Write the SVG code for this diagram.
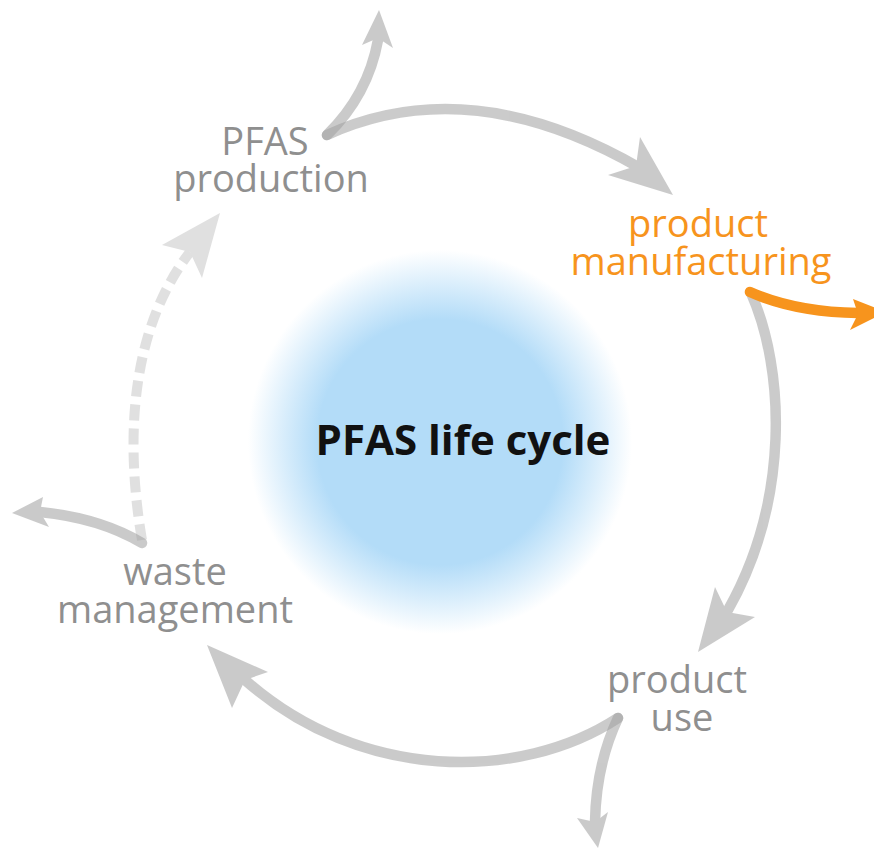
<svg xmlns="http://www.w3.org/2000/svg" width="874" height="850" viewBox="0 0 874 850">
  <defs>
    <radialGradient id="glow" cx="440" cy="442" r="192" gradientUnits="userSpaceOnUse">
      <stop offset="0" stop-color="#B3DCF8"/>
      <stop offset="0.64" stop-color="#B3DCF8"/>
      <stop offset="1" stop-color="#B3DCF8" stop-opacity="0"/>
    </radialGradient>
    <style>
      .lbl { font-family: "Open Sans", "Noto Sans", "Liberation Sans", sans-serif; font-size: 38px; text-anchor: middle; }
      .gray { fill: #8F8F8F; }
      .orange { fill: #F7941D; }
      .title { font-family: "Open Sans", "Noto Sans", "Liberation Sans", sans-serif; font-size: 42px; font-weight: bold; fill: #111111; text-anchor: middle; }
      .arr { opacity: 0.55; }
      .arr path { fill: none; stroke: #A0A0A0; stroke-width: 10.5; stroke-linecap: round; }
      .arr polygon { fill: #A0A0A0; }
      .dash { opacity: 0.32; }
      .dash path { fill: none; stroke: #A0A0A0; stroke-width: 10; stroke-dasharray: 16 8; }
      .dash polygon { fill: #A0A0A0; }
      .org path { fill: none; stroke: #F7941D; stroke-width: 10.5; stroke-linecap: round; }
      .org polygon { fill: #F7941D; }
    </style>
  </defs>
  <rect width="874" height="850" fill="#FFFFFF"/>

  <g id="center">
    <circle cx="440" cy="442" r="200" fill="url(#glow)"/>
    <text class="title" x="463" y="455">PFAS life cycle</text>
  </g>

  <g id="connectors">
    <g class="arr" id="prod-to-manuf">
      <path d="M327,135 Q470,70 640,168"/>
      <polygon points="673,195 640,137 636,166 608,175"/>
    </g>
    <g class="arr" id="prod-out">
      <path d="M327,135 Q368,95 378,40"/>
      <polygon points="379,10 362,45 378,38 393,48"/>
    </g>
    <g class="arr" id="manuf-to-use">
      <path d="M751,293 C785,370 790,500 728,610"/>
      <polygon points="698,652 715,587 727,612 755,617"/>
    </g>
    <g class="arr" id="use-to-waste">
      <path d="M618,718 C520,782 360,782 245,680"/>
      <polygon points="207,645 268,672 245,680 232,708"/>
    </g>
    <g class="arr" id="use-out">
      <path d="M618,718 Q596,765 595,822"/>
      <polygon points="598,848 577,818 595,822 608,812"/>
    </g>
    <g class="arr" id="waste-out">
      <path d="M142,543 Q100,518 40,512"/>
      <polygon points="12,513 43,497 40,512 49,527"/>
    </g>
    <g class="dash" id="waste-to-prod">
      <path d="M142,540 C125,440 130,330 190,252"/>
      <polygon points="220,213 162,245 190,252 202,278"/>
    </g>
    <g class="org" id="manuf-out">
      <path d="M750,292 Q795,312 858,313"/>
      <polygon points="886,312 853,299 858,314 850,330"/>
    </g>
  </g>

  <g id="node-pfas-production">
    <text class="lbl gray" x="265" y="155">PFAS</text>
    <text class="lbl gray" x="271" y="192">production</text>
  </g>
  <g id="node-product-manufacturing">
    <text class="lbl orange" x="698" y="237">product</text>
    <text class="lbl orange" x="701" y="275">manufacturing</text>
  </g>
  <g id="node-product-use">
    <text class="lbl gray" x="677" y="693">product</text>
    <text class="lbl gray" x="682" y="731">use</text>
  </g>
  <g id="node-waste-management">
    <text class="lbl gray" x="175" y="585">waste</text>
    <text class="lbl gray" x="175" y="623">management</text>
  </g>
</svg>
